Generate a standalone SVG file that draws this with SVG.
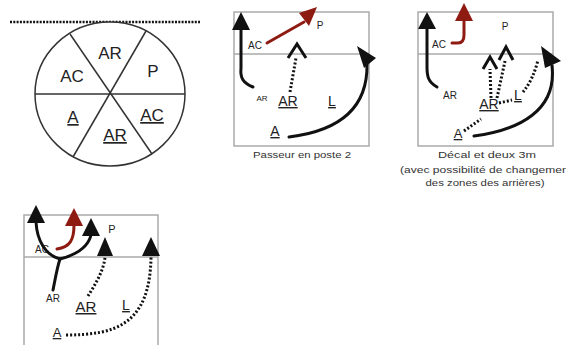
<svg xmlns="http://www.w3.org/2000/svg" width="566" height="345" viewBox="0 0 566 345">
<style>
text{font-family:"Liberation Sans",Arial,sans-serif;fill:#222}
.m{text-anchor:middle}
.u{text-decoration:underline}
.court{fill:none;stroke:#aaa;stroke-width:1.5}
.blk{fill:none;stroke:#111;stroke-width:3;stroke-linecap:round}
.red{fill:none;stroke:#8e1b12;stroke-width:3;stroke-linecap:round}
.dot{fill:none;stroke:#111;stroke-width:3;stroke-dasharray:2 2}
.chev{fill:none;stroke:#111;stroke-width:3;stroke-linejoin:miter}
.hb{fill:#111}
.hr{fill:#8e1b12}
.cap{font-size:9.5px;fill:#333}
</style>
<rect width="566" height="345" fill="#fff"/>

<g id="rotation-wheel">
<line x1="10" y1="22" x2="200" y2="22" stroke="#111" stroke-width="2.5" stroke-dasharray="2 1.3"/>
<ellipse cx="110" cy="94" rx="75" ry="72" fill="#fff" stroke="#333" stroke-width="1.5"/>
<line x1="35" y1="94" x2="185" y2="94" stroke="#333" stroke-width="1.5"/>
<line x1="70" y1="34" x2="152" y2="154" stroke="#333" stroke-width="1.5"/>
<line x1="146" y1="31" x2="73" y2="157" stroke="#333" stroke-width="1.5"/>
<text class="m" x="110" y="59" font-size="17">AR</text>
<text class="m" x="72" y="82" font-size="17">AC</text>
<text class="m" x="153" y="77" font-size="17">P</text>
<text class="m u" x="73" y="123" font-size="17">A</text>
<text class="m u" x="115" y="141" font-size="17">AR</text>
<text class="m u" x="152" y="121" font-size="17">AC</text>
</g>

<g id="panel-passeur-poste2">
<rect class="court" x="234" y="12" width="135" height="134"/>
<line class="court" x1="234" y1="54" x2="369" y2="54"/>
<text x="248" y="49" font-size="10">AC</text>
<text class="m" x="320" y="29" font-size="10">P</text>
<text class="m" x="262" y="101" font-size="8">AR</text>
<text class="m u" x="288" y="106" font-size="14">AR</text>
<text class="m u" x="332" y="106" font-size="14">L</text>
<text class="m u" x="275" y="136" font-size="14">A</text>
<text class="m cap" x="302" y="158" textLength="98" lengthAdjust="spacingAndGlyphs">Passeur en poste 2</text>
</g>

<g id="panel-decal">
<rect class="court" x="418" y="12" width="135" height="134"/>
<line class="court" x1="418" y1="54" x2="553" y2="54"/>
<text x="432" y="48" font-size="10">AC</text>
<text class="m" x="505" y="30" font-size="10">P</text>
<text class="m" x="450" y="99" font-size="10">AR</text>
<text class="m u" x="489" y="109" font-size="14">AR</text>
<text class="m u" x="518" y="100" font-size="14">L</text>
<text class="m u" x="458" y="138" font-size="13">A</text>
<text class="m cap" x="487" y="158" textLength="98" lengthAdjust="spacingAndGlyphs">Décal et deux 3m</text>
<text class="cap" x="400" y="173" textLength="172" lengthAdjust="spacingAndGlyphs">(avec possibilité de changement</text>
<text class="m cap" x="485" y="186" textLength="119" lengthAdjust="spacingAndGlyphs">des zones des arrières)</text>
</g>

<g id="panel-4">
<rect class="court" x="24" y="215" width="134" height="140"/>
<line class="court" x1="24" y1="257" x2="158" y2="257"/>
<text x="35" y="253" font-size="10">AC</text>
<text class="m" x="112" y="233" font-size="11">P</text>
<text class="m" x="53" y="302" font-size="10">AR</text>
<text class="m u" x="86" y="312" font-size="15">AR</text>
<text class="m u" x="126" y="310" font-size="14">L</text>
<text class="m u" x="57" y="337" font-size="13">A</text>
</g>

<g id="connectors">
<!-- panel 2 -->
<path class="blk" d="M253 87 C243 83 240 78 241 68 L241 29"/>
<polygon class="hb" points="241,12 232,30 250,30"/>
<path class="red" d="M267 43 L304 22"/>
<polygon class="hr" points="317,7 299,13 309,26"/>
<path class="dot" d="M290 92 L296 58"/>
<polyline class="chev" points="288,58 297,44 306,58"/>
<path class="blk" d="M289 137 C330 132 368 115 367 64"/>
<polygon class="hb" points="357,46 376,58 364,68"/>
<!-- panel 3 -->
<path class="blk" d="M437 87 C428 82 427 76 427 67 L427 27"/>
<polygon class="hb" points="427,12 418,29 436,29"/>
<path class="red" d="M452 43 L458 43 Q464 43 464 35 L464 20"/>
<polygon class="hr" points="464,3 455,21 473,21"/>
<path class="dot" d="M491 98 L490 69"/>
<path class="dot" d="M497 98 L505 61"/>
<polyline class="chev" points="483,69 490,57 497,69"/>
<polyline class="chev" points="499,60 506,47 513,60"/>
<path class="dot" d="M464 131 L481 119"/>
<path class="dot" d="M499 103 L512 100"/>
<path class="dot" d="M523 92 Q533 80 538 60"/>
<path class="blk" d="M474 136 C520 130 557 110 552 66"/>
<polygon class="hb" points="541,46 561,61 545,68"/>
<!-- panel 4 -->
<path class="blk" d="M53 290 C55 280 57 268 60 259"/>
<path class="blk" d="M60 259 C45 255 37 240 36 222"/>
<path class="blk" d="M60 259 C75 255 88 248 91 235"/>
<polygon class="hb" points="36,205 27,223 45,223"/>
<polygon class="hb" points="91,218 82,236 100,236"/>
<path class="red" d="M57 249 C70 247 74 240 74 225"/>
<polygon class="hr" points="74,208 65,226 83,226"/>
<path class="dot" d="M88 296 C95 285 104 270 105 257"/>
<polygon class="hb" points="105,237 97,256 113,256"/>
<path class="dot" d="M66 335 C115 335 150 325 151 257"/>
<polygon class="hb" points="151,237 142,256 160,256"/>
</g>
</svg>
